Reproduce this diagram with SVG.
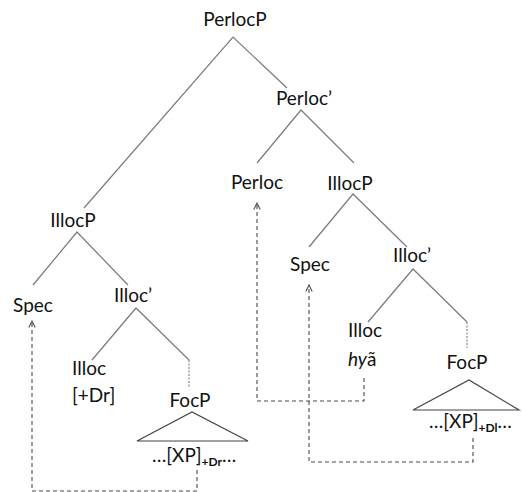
<svg xmlns="http://www.w3.org/2000/svg" width="522" height="492" viewBox="0 0 522 492">
  <style>
    text { font-family: Lato, "Liberation Sans", sans-serif; font-size: 19px; fill: #111; }
    .mid { text-anchor: middle; }
    .sub { font-size: 12px; font-weight: bold; }
    .branch { stroke: #7a7a7a; stroke-width: 1.2; fill: none; }
    .dots { stroke: #888; stroke-width: 1.2; stroke-dasharray: 2 1.5; fill: none; }
    .tri { stroke: #444; stroke-width: 1.2; fill: none; }
    .move { stroke: #4a4a4a; stroke-width: 1.1; stroke-dasharray: 4 3; fill: none; }
  </style>
  <defs>
    <marker id="open-arrow" viewBox="0 0 10 10" refX="9" refY="5" markerUnits="userSpaceOnUse" markerWidth="8" markerHeight="8" orient="auto">
      <path d="M1,1 L9,5 L1,9" fill="none" stroke="#4a4a4a" stroke-width="1.3"/>
    </marker>
  </defs>
  <rect width="522" height="492" fill="#fff"/>

  <!-- tree branches -->
  <g id="branches">
    <path class="branch" d="M84,208 L233,37 L287,88"/>
    <path class="branch" d="M257,163 L301,110 L354,163"/>
    <path class="branch" d="M309,247 L353,194 L407,247"/>
    <path class="branch" d="M368,322 L413,269 L467,322"/>
    <path class="dots" d="M467,322 L467,348"/>
    <path class="branch" d="M33,285 L77,232 L128,285"/>
    <path class="branch" d="M92,360 L136,308 L189,360"/>
    <path class="dots" d="M189,360 L189,388"/>
  </g>

  <!-- movement connectors -->
  <g id="connectors">
    <path class="move" d="M197,470 L197,491 L32,491 L32,321" marker-end="url(#open-arrow)"/>
    <path class="move" d="M364,378 L364,401 L257,401 L257,203" marker-end="url(#open-arrow)"/>
    <path class="move" d="M473,438 L473,462 L309,462 L309,285" marker-end="url(#open-arrow)"/>
  </g>

  <g id="perlocp"><text class="mid" x="235" y="26">PerlocP</text></g>
  <g id="perloc-bar"><text class="mid" x="304" y="105">Perloc’</text></g>
  <g id="perloc"><text class="mid" x="257" y="189">Perloc</text></g>
  <g id="illocp-right"><text class="mid" x="350" y="190">IllocP</text></g>
  <g id="spec-right"><text class="mid" x="310" y="271">Spec</text></g>
  <g id="illoc-bar-right"><text class="mid" x="412" y="262">Illoc’</text></g>
  <g id="illoc-right">
    <text x="348" y="337">Illoc</text>
    <text x="348" y="366"><tspan font-style="italic">hy</tspan>ã</text>
  </g>
  <g id="focp-right">
    <text class="mid" x="467" y="369">FocP</text>
    <path class="tri" d="M413,410 L469,380 L519,410 Z"/>
    <text x="429" y="428">…[XP]<tspan class="sub" dy="4">+Dl</tspan><tspan dy="-4">…</tspan></text>
  </g>

  <g id="illocp-left"><text class="mid" x="73" y="227">IllocP</text></g>
  <g id="spec-left"><text class="mid" x="33" y="312">Spec</text></g>
  <g id="illoc-bar-left"><text class="mid" x="133" y="302">Illoc’</text></g>
  <g id="illoc-left">
    <text x="72" y="375">Illoc</text>
    <text x="72" y="402">[+Dr]</text>
  </g>
  <g id="focp-left">
    <text class="mid" x="190" y="407">FocP</text>
    <path class="tri" d="M137,441 L192,412 L248,441 Z"/>
    <text x="152" y="462">…[XP]<tspan class="sub" dy="4">+Dr</tspan><tspan dy="-4">…</tspan></text>
  </g>
</svg>
